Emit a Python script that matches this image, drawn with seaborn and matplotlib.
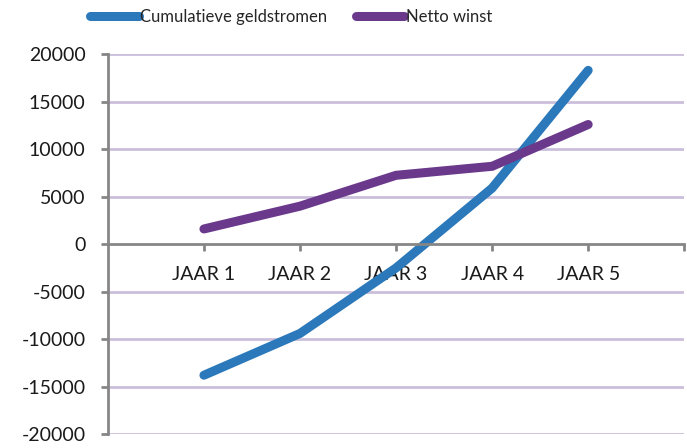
import matplotlib
matplotlib.use("Agg")
import matplotlib.pyplot as plt
import seaborn as sns
import pandas as pd

# waarden
jaren = ["JAAR 1", "JAAR 2", "JAAR 3", "JAAR 4", "JAAR 5"]
cumulatief = [-13800, -9400, -2500, 5900, 18300]
netto_winst = [1600, 4000, 7250, 8200, 12600]
series_namen = ["Cumulatieve geldstromen", "Netto winst"]
kleuren = ["#2b79bb", "#6a398b"]
y_ticks = [-20000, -15000, -10000, -5000, 0, 5000, 10000, 15000, 20000]

df = pd.DataFrame({
    "jaar": jaren * 2,
    "waarde": cumulatief + netto_winst,
    "serie": [series_namen[0]] * 5 + [series_namen[1]] * 5,
})

sns.set_theme(style="white")
plt.rcParams["font.family"] = ["Lato", "DejaVu Sans"]

fig = plt.figure(figsize=(6.87, 4.48), dpi=100)
ax = fig.add_axes([0.157, 0.031, 0.839, 0.848])

sns.lineplot(data=df, x="jaar", y="waarde", hue="serie", palette=kleuren,
             linewidth=6.5, ax=ax, sort=False, legend=True)
for ln in ax.lines:
    ln.set_solid_capstyle("round")
    ln.set_solid_joinstyle("miter")

ax.set_xlim(-1, 5)
ax.set_ylim(-20000, 20000)
ax.set_yticks(y_ticks)
ax.set_yticklabels([str(v) for v in y_ticks])
ax.set_xticks(range(6))
ax.set_xticklabels(jaren + [""])
ax.set_xlabel("")
ax.set_ylabel("")

# rasterlijnen
for v in y_ticks:
    if v != 0:
        ax.axhline(v, color="#cbbfdb", lw=2, zorder=0)

for s in ["top", "right"]:
    ax.spines[s].set_visible(False)
ax.spines["bottom"].set_position(("data", 0))
ax.spines["bottom"].set_color("#868686")
ax.spines["bottom"].set_linewidth(2)
ax.spines["left"].set_color("#868686")
ax.spines["left"].set_linewidth(2)
ax.tick_params(axis="both", which="major", length=5, width=2, color="#868686",
               direction="out", left=True, bottom=True, pad=11,
               labelsize=14, labelcolor="#1a1a1a")

handles, labels = ax.get_legend_handles_labels()
for h in handles:
    h.set_solid_capstyle("round")
ax.legend(handles, labels, loc="center", bbox_to_anchor=(0.424, 0.963),
          bbox_transform=fig.transFigure, ncol=2, frameon=False,
          fontsize=12, handlelength=2.9, handletextpad=0.1, columnspacing=1.7)

fig.savefig("out.png", dpi=100)
